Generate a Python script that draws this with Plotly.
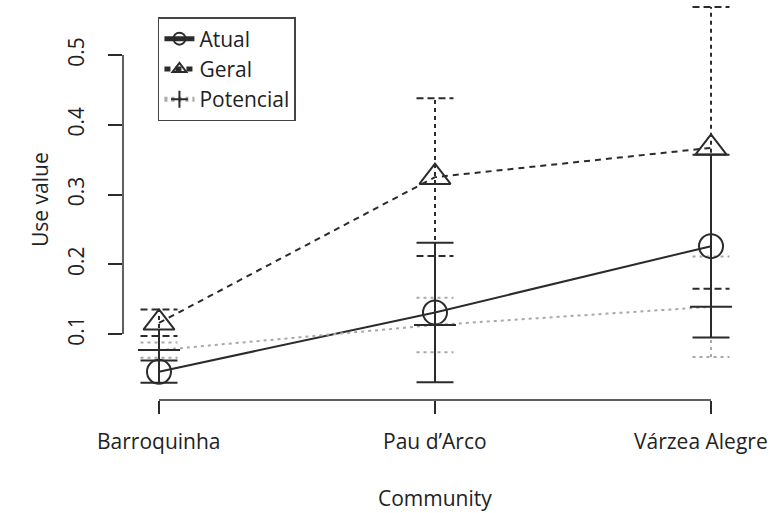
import plotly.graph_objects as go

communities = ["Barroquinha", "Pau d’Arco", "Várzea Alegre"]
atual = [0.046, 0.131, 0.226]
atual_err = [0.016, 0.100, 0.131]
geral = [0.116, 0.325, 0.367]
geral_err = [0.019, 0.113, 0.202]
potencial = [0.077, 0.113, 0.139]
potencial_err = [0.011, 0.039, 0.072]
y_ticks = [0.1, 0.2, 0.3, 0.4, 0.5]

xs = list(range(len(communities)))
FONT = "Open Sans"
DARK = "#2b2b2b"
GRAY = "#a8a8a8"
CAP = 0.067


def err_traces(ys, es, color, dash_v, dash_c, width):
    vx, vy, cx, cy = [], [], [], []
    for x, y, e in zip(xs, ys, es):
        vx += [x, x, None]
        vy += [y - e, y + e, None]
        for yy in (y - e, y + e):
            cx += [x - CAP, x + CAP, None]
            cy += [yy, yy, None]
    return [
        go.Scatter(x=vx, y=vy, mode="lines", showlegend=False, hoverinfo="skip",
                   line=dict(color=color, dash=dash_v, width=width)),
        go.Scatter(x=cx, y=cy, mode="lines", showlegend=False, hoverinfo="skip",
                   line=dict(color=color, dash=dash_c, width=width)),
    ]


fig = go.Figure()
for t in err_traces(potencial, potencial_err, GRAY, "3px,4px", "3px,4px", 2):
    fig.add_trace(t)
for t in err_traces(geral, geral_err, DARK, "4px,4px", "7px,4px", 2):
    fig.add_trace(t)
for t in err_traces(atual, atual_err, DARK, "solid", "solid", 2):
    fig.add_trace(t)

fig.add_trace(go.Scatter(
    x=xs, y=atual, name="Atual", mode="lines+markers",
    line=dict(color=DARK, width=2),
    marker=dict(symbol="circle-open", size=24, color=DARK, line=dict(width=2, color=DARK)),
))
fig.add_trace(go.Scatter(
    x=xs, y=geral, name="Geral", mode="lines+markers",
    line=dict(color=DARK, width=2, dash="6px,5px"),
    marker=dict(symbol="triangle-up-open", size=27, color=DARK, line=dict(width=2, color=DARK)),
))
fig.add_trace(go.Scatter(
    x=xs, y=potencial, name="Potencial", mode="lines+markers",
    line=dict(color=GRAY, width=2, dash="3px,4px"),
    marker=dict(symbol="cross-thin-open", size=30, color=DARK, line=dict(width=2, color=DARK)),
))

fig.add_shape(type="line", xref="x", yref="paper", x0=xs[0], x1=xs[-1], y0=0, y1=0,
              line=dict(color=DARK, width=1.5))
fig.add_shape(type="line", xref="paper", yref="y", x0=0, x1=0, y0=y_ticks[0], y1=y_ticks[-1],
              line=dict(color=DARK, width=1.5))

# x tick labels as text (last label nudged left so it stays on the page, as in the reference)
tick_annots = []
for i, (x, label) in enumerate(zip(xs, communities)):
    tick_annots.append(dict(
        text=label, xref="x", yref="paper", x=x, y=0, yanchor="top", xanchor="center",
        yshift=-25, xshift=(-10 if i == len(xs) - 1 else 0), showarrow=False,
        font=dict(size=21),
    ))

fig.update_layout(
    width=772, height=513,
    margin=dict(l=123, r=25, t=0, b=113),
    paper_bgcolor="white", plot_bgcolor="white",
    font=dict(family=FONT, size=21, color="#222"),
    showlegend=True,
    legend=dict(
        x=0.056, y=0.9575, xanchor="left", yanchor="top",
        bordercolor="#444", borderwidth=1.5, bgcolor="white",
        font=dict(size=21), itemsizing="constant", tracegroupgap=0,
        entrywidth=150, entrywidthmode="pixels",
    ),
    xaxis=dict(
        range=[-0.1304, 2.1304], tickmode="array", tickvals=xs, showticklabels=False,
        showline=False, showgrid=False, zeroline=False,
        ticks="outside", ticklen=13, tickwidth=1.5, tickcolor=DARK,
    ),
    yaxis=dict(
        range=[0.0054, 0.579], tickmode="array", tickvals=y_ticks,
        ticktext=[f"{v:.1f}" for v in y_ticks], tickangle=-90,
        showline=False, showgrid=False, zeroline=False,
        ticks="outside", ticklen=14, tickwidth=1.5, tickcolor=DARK,
        ticklabelstandoff=16, tickfont=dict(size=21),
    ),
    annotations=tick_annots + [
        dict(text="Use value", xref="paper", yref="paper", x=-0.133, y=0.5,
             textangle=-90, showarrow=False, xanchor="center", yanchor="middle",
             font=dict(size=21)),
        dict(text="Community", xref="paper", yref="paper", x=0.5, y=-0.245,
             showarrow=False, xanchor="center", yanchor="middle", font=dict(size=21)),
    ],
)

fig.write_html("out.html", config={"displayModeBar": False},
               post_script="document.body.style.margin='0';")
